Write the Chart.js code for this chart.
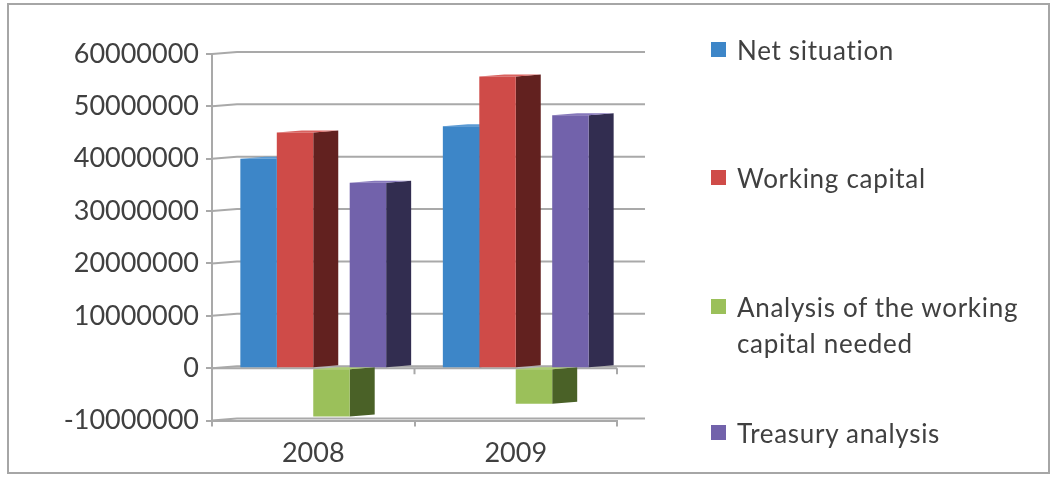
<!DOCTYPE html>
<html lang="en">
<head>
<meta charset="UTF-8">
<title>Net situation and working capital 2008-2009</title>
<style>
    body { margin: 0; background: #ffffff; }
    .quadro { position: relative; width: 1058px; height: 485px; overflow: hidden; }
    .quadro canvas { position: absolute; left: 0; top: 0; }
    .moldura {
        position: absolute; left: 7px; top: 3px; width: 1039px; height: 467px;
        border: 2px solid #a6a6a6; pointer-events: none;
    }
    #legenda {
        position: absolute; left: 711px; top: 0;
        font-family: Lato, "Liberation Sans", sans-serif; font-size: 26px;
        line-height: 36px; letter-spacing: 0.7px; color: #404040;
    }
    #legenda .item { position: absolute; left: 0; width: 330px; display: flex; }
    #legenda .cor { flex: none; width: 15px; height: 15px; margin: 10px 11px 0 0; }
</style>
</head>
<body>

<div class="quadro">
    <canvas id="grafico" width="1058" height="485"></canvas>
    <div id="legenda"></div>
    <div class="moldura"></div>
</div>

<script src="https://cdn.jsdelivr.net/npm/chart.js"></script>
<script>
// dados
const anos = ['2008', '2009'];
const netSituation = [40000000, 46200000];
const workingCapital = [45000000, 55700000];
const wcNeeded = [-9200000, -6800000];
const treasury = [35400000, 48300000];
const nomes = ['Net situation', 'Working capital', 'Analysis of the working capital needed', 'Treasury analysis'];

const cores = ['#3d86c8', '#cf4b48', '#9bc05a', '#7262ab'];
const coresLado = ['#24507c', '#62211f', '#4a6127', '#322d50'];
const coresTopo = ['#5a9ad4', '#d9625f', '#aece74', '#8677bb'];

const corTexto = '#404040';
const corLinha = '#a9a9a9';
const fonte = { family: 'Lato, "Liberation Sans", sans-serif', size: 27 };

// profundidade do efeito 3D
const DX = 25, DY = 2;

const perspectiva = {
    id: 'perspectiva',
    beforeDatasetsDraw(chart) {
        const { ctx, chartArea: a, scales: { x, y } } = chart;
        ctx.save();
        ctx.strokeStyle = corLinha;
        ctx.lineWidth = 2;

        // linhas da parede do fundo
        y.ticks.forEach(t => {
            const py = y.getPixelForValue(t.value);
            ctx.beginPath();
            ctx.moveTo(a.left, py);
            ctx.lineTo(a.left + DX, py - DY);
            ctx.lineTo(a.right + DX + 3, py - DY);
            ctx.stroke();
        });

        // eixo no zero, na frente
        const y0 = y.getPixelForValue(0);
        ctx.beginPath();
        ctx.moveTo(a.left, y0);
        ctx.lineTo(a.right, y0);
        for (let i = 1; i <= anos.length; i++) {
            const px = x.getPixelForValue(i - 0.5);
            ctx.moveTo(px, y0);
            ctx.lineTo(px, y0 + 6);
        }
        ctx.stroke();

        // faces laterais e de cima das barras
        chart.data.datasets.forEach((ds, i) => {
            chart.getDatasetMeta(i).data.forEach(bar => {
                const p = bar.getProps(['x', 'y', 'base', 'width'], true);
                const xl = p.x - p.width / 2, xr = p.x + p.width / 2;
                const topo = Math.min(p.y, p.base), fundo = Math.max(p.y, p.base);

                ctx.fillStyle = coresLado[i];
                ctx.beginPath();
                ctx.moveTo(xr, topo);
                ctx.lineTo(xr + DX, topo - DY);
                ctx.lineTo(xr + DX, fundo - DY);
                ctx.lineTo(xr, fundo);
                ctx.closePath();
                ctx.fill();

                ctx.fillStyle = coresTopo[i];
                ctx.beginPath();
                ctx.moveTo(xl, topo);
                ctx.lineTo(xl + DX, topo - DY);
                ctx.lineTo(xr + DX, topo - DY);
                ctx.lineTo(xr, topo);
                ctx.closePath();
                ctx.fill();
            });
        });
        ctx.restore();
    }
};

const chart = new Chart(document.getElementById('grafico'), {
    type: 'bar',
    data: {
        labels: anos,
        datasets: [
            { label: nomes[0], data: netSituation, backgroundColor: cores[0] },
            { label: nomes[1], data: workingCapital, backgroundColor: cores[1] },
            { label: nomes[2], data: wcNeeded, backgroundColor: cores[2] },
            { label: nomes[3], data: treasury, backgroundColor: cores[3] }
        ]
    },
    options: {
        responsive: false,
        animation: false,
        layout: { padding: { left: 0, right: 441, top: 54, bottom: 6 } },
        datasets: {
            bar: { categoryPercentage: 0.72, barPercentage: 1, borderWidth: 0 }
        },
        scales: {
            x: {
                grid: { display: true, drawOnChartArea: false, drawTicks: true, tickLength: 6, color: corLinha, lineWidth: 2 },
                border: { display: true, color: corLinha, width: 2 },
                ticks: { color: corTexto, font: fonte, padding: 10 }
            },
            y: {
                min: -10000000,
                max: 60000000,
                afterFit: s => { s.width = 212; },
                grid: { display: true, drawOnChartArea: false, drawTicks: true, tickLength: 6, color: corLinha, lineWidth: 2 },
                border: { display: true, color: corLinha, width: 2 },
                ticks: { stepSize: 10000000, color: corTexto, font: fonte, padding: 7, callback: v => String(v) }
            }
        },
        plugins: {
            legend: { display: false },
            tooltip: { enabled: false }
        }
    },
    plugins: [perspectiva]
});

// legenda em HTML, a partir dos datasets
const alturasLegenda = [32, 160, 289, 415];
const legenda = document.getElementById('legenda');
chart.data.datasets.forEach((ds, i) => {
    const item = document.createElement('div');
    item.className = 'item';
    item.style.top = alturasLegenda[i] + 'px';
    const cor = document.createElement('span');
    cor.className = 'cor';
    cor.style.background = ds.backgroundColor;
    const texto = document.createElement('span');
    texto.textContent = ds.label;
    item.appendChild(cor);
    item.appendChild(texto);
    legenda.appendChild(item);
});
</script>
</body>
</html>
